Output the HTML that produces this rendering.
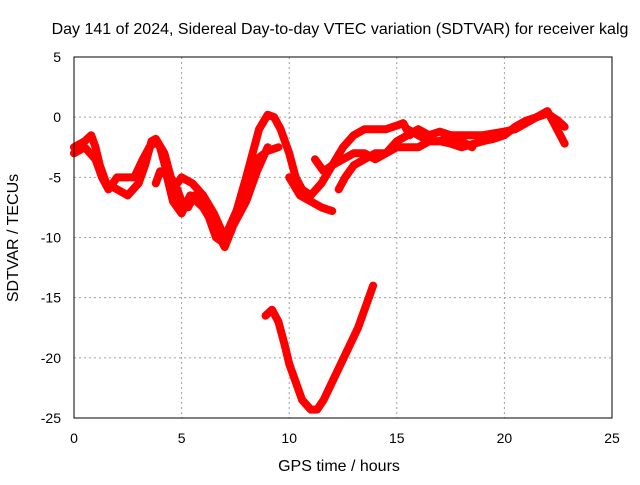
<!DOCTYPE html>
<html><head><meta charset="utf-8"><style>
body{margin:0;background:#fff;}
svg text{font-family:"Liberation Sans",sans-serif;font-size:14px;fill:#000;}
svg text.big{font-size:16px;}
</style></head><body>
<svg id="chart" width="640" height="480">
<text class="big" x="340" y="34" text-anchor="middle">Day 141 of 2024, Sidereal Day-to-day VTEC variation (SDTVAR) for receiver kalg</text>
<text class="big" x="339" y="471" text-anchor="middle">GPS time / hours</text>
<text class="big" transform="translate(18,238) rotate(-90)" text-anchor="middle">SDTVAR / TECUs</text>
<g id="grid"></g><g id="ticks"></g><g id="series"></g>
<rect x="74" y="57" width="538" height="361" fill="none" stroke="#000" stroke-width="1"/>
</svg>
<script>
const xTicks=[0,5,10,15,20,25];
const yTicks=[5,0,-5,-10,-15,-20,-25];
const trackA=[[0,-2.5],[0.5,-2],[0.8,-1.5],[1,-2.5],[1.2,-4],[1.5,-5.5],[2,-6],[2.5,-6.5],[3,-5.5],[3.3,-4],[3.6,-2],[3.8,-1.8],[4.2,-3],[4.5,-5],[4.8,-6],[5,-7],[5.3,-7.5],[5.6,-6.5],[6,-6.5],[6.3,-8.5],[6.6,-10],[7,-10.5],[7.3,-9.5],[7.6,-7.5],[8,-5],[8.3,-3],[8.6,-1],[9,0.2],[9.3,0],[9.6,-1],[10,-3],[10.3,-5],[10.6,-6],[11,-6.5],[11.5,-5.5],[12,-4],[12.5,-2.5],[13,-1.5],[13.5,-1],[14,-1],[14.5,-1],[15,-0.7],[15.3,-0.5],[15.6,-1.5]];
const trackB=[[0,-3],[0.5,-2.5],[1,-3.5],[1.3,-5],[1.6,-6],[2,-5],[2.3,-5],[2.8,-5],[3.2,-3.5],[3.5,-2.5],[3.8,-2],[4,-2.5],[4.3,-4.5],[4.6,-6],[5,-5],[5.5,-5.5],[6,-6.5],[6.5,-8],[7,-10],[7.5,-8],[8,-6],[8.5,-3.5],[9,-2.8],[9.5,-2.5]];
const trackC=[[3.8,-5.5],[4,-4.5],[4.3,-4.8],[4.6,-7],[5,-8],[5.4,-6.5],[6,-7.5],[6.5,-9],[7,-10.8],[7.4,-9],[8,-7],[8.5,-4.5],[9,-2.5]];
const trackD=[[10,-5],[10.5,-6.5],[11,-7],[11.5,-7.5],[12,-7.8]];
const trackE=[[11.2,-3.5],[11.6,-4.5],[12,-4],[12.5,-3.5],[13,-3],[13.5,-3],[14,-3.5],[14.5,-3],[15,-2.5],[15.5,-2.5],[16,-2.5],[16.5,-2],[17,-2],[17.5,-1.5],[18,-2],[18.5,-2.5]];
const trackF=[[12.3,-6],[12.6,-5],[13,-4],[13.5,-3.5],[14,-3],[14.5,-3],[15,-2],[15.5,-1.5],[16,-1],[16.5,-1.5],[17,-1.2],[17.5,-1.5],[18,-1.5],[19,-1.5],[20,-1.2],[20.5,-1],[21,-0.5],[21.5,0],[22,0.3],[22.5,-0.3],[22.8,-0.8]];
const trackG=[[15.5,-1],[16,-1.5],[16.5,-2],[17,-2],[17.5,-2.2],[18,-2.5],[19,-2],[19.5,-1.8],[20,-1.5],[20.5,-0.8],[21,-0.3],[21.5,0],[22,0.5],[22.3,-0.5],[22.8,-2.2]];
const trackH=[[8.9,-16.5],[9.2,-16],[9.5,-17],[9.8,-19],[10,-20.5],[10.3,-22],[10.6,-23.5],[11,-24.3],[11.3,-24.3],[11.6,-23.5],[12,-22],[12.4,-20.5],[12.8,-19],[13.2,-17.5],[13.6,-15.5],[13.9,-14]];
const ns="http://www.w3.org/2000/svg";
const X=v=>74+v*(538/25);
const Y=v=>57+(5-v)*(361/30);
const grid=document.getElementById('grid'),ticks=document.getElementById('ticks'),ser=document.getElementById('series');
function mk(tag,attrs,parent){const e=document.createElementNS(ns,tag);for(const k in attrs)e.setAttribute(k,attrs[k]);parent.appendChild(e);return e;}
xTicks.forEach(t=>{
 if(t>0&&t<25){const g=mk('line',{x1:X(t),x2:X(t),y1:57,y2:418,stroke:'#a0a0a0','stroke-dasharray':'2,3'},grid);
 
 }
 const l=mk('text',{x:X(t),y:443,'text-anchor':'middle'},ticks);l.textContent=t;
 
 
});
yTicks.forEach(t=>{
 if(t<5&&t>-25){const g=mk('line',{x1:74,x2:612,y1:Y(t),y2:Y(t),stroke:'#a0a0a0','stroke-dasharray':'2,3'},grid);
 
 }
 const l=mk('text',{x:61,y:Y(t)+5,'text-anchor':'end'},ticks);l.textContent=t;
 
 
});
[trackA,trackB,trackC,trackD,trackE,trackF,trackG,trackH].forEach((tr,i)=>{
 const p=mk('polyline',{points:tr.map(d=>X(d[0])+','+Y(d[1])).join(' '),fill:'none',stroke:'#ff0000','stroke-width':8,'stroke-linejoin':'round','stroke-linecap':'round'},ser);
 
 
});
</script>
</body></html>
